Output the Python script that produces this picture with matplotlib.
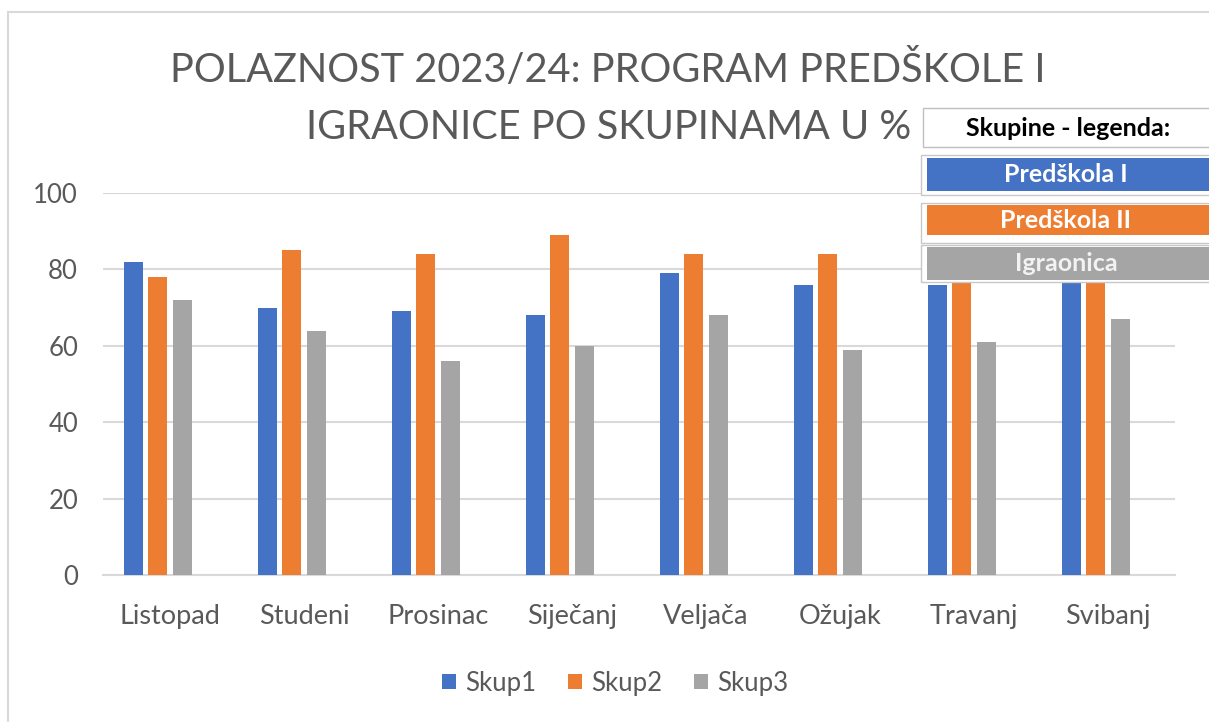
import numpy as np
import matplotlib
matplotlib.use("Agg")
import matplotlib.pyplot as plt
from matplotlib.patches import Rectangle

months = ['Listopad', 'Studeni', 'Prosinac', 'Siječanj', 'Veljača', 'Ožujak', 'Travanj', 'Svibanj']
skup1 = [82, 70, 69, 68, 79, 76, 76, 77]
skup2 = [78, 85, 84, 89, 84, 84, 77, 77]
skup3 = [72, 64, 56, 60, 68, 59, 61, 67]
series_names = ['Skup1', 'Skup2', 'Skup3']
colors = ['#4472C4', '#ED7D31', '#A5A5A5']
yticks = [0, 20, 40, 60, 80, 100]
title_lines = ['POLAZNOST 2023/24: PROGRAM PREDŠKOLE I', 'IGRAONICE PO SKUPINAMA U %']
box_labels = ['Predškola I', 'Predškola II', 'Igraonica']

plt.rcParams['font.family'] = ['Lato', 'DejaVu Sans']
txt = '#595959'

W, H = 1209, 722
fig = plt.figure(figsize=(W / 100, H / 100), dpi=100)

def fx(px):
    return px / W

def fy(py):
    return 1 - py / H

# chart area border
fig.patches.append(Rectangle((fx(8), fy(740)), fx(1230) - fx(8), fy(12) - fy(740),
                             transform=fig.transFigure, fill=False,
                             edgecolor='#D9D9D9', linewidth=1.5, zorder=0))

ax = fig.add_axes([fx(103), fy(575), fx(1175) - fx(103), fy(193) - fy(575)])
x = np.arange(len(months))
slot = 0.183
for k, (vals, c, name) in enumerate(zip([skup1, skup2, skup3], colors, series_names)):
    ax.bar(x + (k - 1.5) * slot, vals, width=0.14, color=c, label=name, zorder=3)

ax.set_xlim(-0.5, len(months) - 0.5)
ax.set_ylim(0, 100)
ax.set_yticks(yticks)
ax.yaxis.grid(True, color='#D9D9D9', linewidth=1.5, zorder=0)
ax.set_axisbelow(True)
for s in ['top', 'right', 'left']:
    ax.spines[s].set_visible(False)
ax.spines['bottom'].set_color('#D9D9D9')
ax.spines['bottom'].set_linewidth(1.5)
ax.set_xticks(x)
ax.set_xticklabels(months)
ax.tick_params(axis='x', length=0, labelsize=19.5, colors=txt, pad=21)
ax.tick_params(axis='y', length=0, labelsize=18.5, colors=txt, pad=18)

# title as two centred lines
for line, base in zip(title_lines, [82, 139]):
    fig.text(0.503, fy(base), line, ha='center', va='baseline',
             fontsize=28.6, color=txt)

fig.legend(loc='center', bbox_to_anchor=(fx(615), fy(683)), ncol=3, frameon=False,
           fontsize=18.5, labelcolor=txt, handlelength=0.55, handleheight=0.55,
           handletextpad=0.35, columnspacing=1.25)

# overlaid legend boxes (top right)
fig.patches.append(Rectangle((fx(923), fy(147)), fx(1215) - fx(923), fy(108) - fy(147),
                             transform=fig.transFigure, facecolor='white',
                             edgecolor='#BFBFBF', linewidth=1, zorder=5))
fig.text(fx(1068), fy(128), 'Skupine - legenda:', ha='center', va='center',
         fontsize=18, fontweight='bold', color='black', zorder=6)

box_y = [(155, 195), (203, 243), (245, 282)]
fill_y = [(158, 191), (205, 235), (247, 280)]
for lab, c, (y0, y1), (f0, f1) in zip(box_labels, colors, box_y, fill_y):
    fig.patches.append(Rectangle((fx(921), fy(y1)), fx(1215) - fx(921), fy(y0) - fy(y1),
                                 transform=fig.transFigure, facecolor='white',
                                 edgecolor='#C8C8C8', linewidth=1, zorder=5))
    fig.patches.append(Rectangle((fx(927), fy(f1)), fx(1215) - fx(927), fy(f0) - fy(f1),
                                 transform=fig.transFigure, facecolor=c,
                                 edgecolor='none', zorder=6))
    fig.text(fx(1066), fy((f0 + f1) / 2), lab, ha='center', va='center',
             fontsize=18, fontweight='bold',
             color='white' if lab != 'Igraonica' else '#F2F2F2', zorder=7)

fig.savefig('out.png', dpi=100)
